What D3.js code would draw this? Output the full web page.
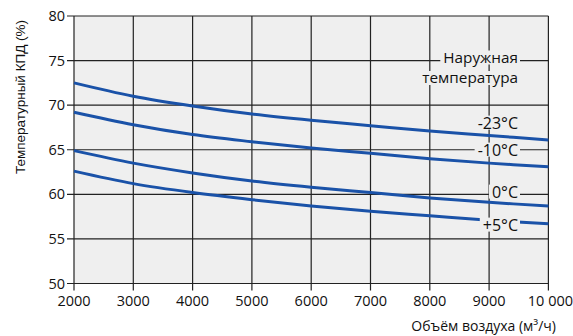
<!DOCTYPE html>
<html><head><meta charset="utf-8">
<script src="https://cdn.jsdelivr.net/npm/d3@7"></script>
<style>body{margin:0;background:#fff}svg{display:block}</style>
</head><body><svg id="c" width="573" height="336"></svg>
<script>
const xTicks = [2000,3000,4000,5000,6000,7000,8000,9000,10000];
const xTickLabels = ["2000","3000","4000","5000","6000","7000","8000","9000","10 000"];
const yTicks = [50,55,60,65,70,75,80];
const airflow = [2000,3000,4000,5000,6000,7000,8000,9000,10000];
const effMinus23 = [72.5,71.0,69.9,69.0,68.3,67.7,67.1,66.6,66.1];
const effMinus10 = [69.2,67.8,66.7,65.9,65.2,64.6,64.0,63.5,63.1];
const eff0 = [64.9,63.5,62.4,61.5,60.8,60.2,59.6,59.1,58.7];
const effPlus5 = [62.6,61.2,60.2,59.4,58.7,58.1,57.6,57.1,56.7];
const seriesLabels = ["-23°C","-10°C","0°C","+5°C"];
const legendTitle = ["Наружная","температура"];
const yTitle = "Температурный КПД (%)";
const xTitle = "Объём воздуха (м³/ч)";

const svg = d3.select("#c");
const x = d3.scaleLinear().domain([2000,10000]).range([74,548.4]);
const y = d3.scaleLinear().domain([50,80]).range([283.5,16]);
const font = "'Open Sans', sans-serif";

svg.append("rect").attr("x",x(2000)).attr("y",y(80)).attr("width",x(10000)-x(2000)).attr("height",y(50)-y(80)).attr("fill","#efefef");

// grid
svg.append("g").selectAll("line").data(xTicks).join("line")
  .attr("x1",d=>x(d)).attr("x2",d=>x(d)).attr("y1",y(80)).attr("y2",y(50)+7)
  .attr("stroke","#222").attr("stroke-width",1.2);
svg.append("g").selectAll("line").data(yTicks).join("line")
  .attr("x1",x(2000)-7).attr("x2",x(10000)).attr("y1",d=>y(d)).attr("y2",d=>y(d))
  .attr("stroke","#222").attr("stroke-width",1.2);

// tick labels
svg.append("g").selectAll("text").data(yTicks).join("text")
  .attr("x",65).attr("y",d=>y(d)).attr("dy","0.35em").attr("text-anchor","end")
  .attr("font-family",font).attr("font-size",14.5).attr("fill","#111").text(d=>d);
svg.append("g").selectAll("text").data(xTicks).join("text")
  .attr("x",(d,i)=> i===xTicks.length-1 ? x(d)+2 : x(d)).attr("y",306).attr("text-anchor","middle")
  .attr("font-family",font).attr("font-size",14.5).attr("fill","#111").text((d,i)=>xTickLabels[i]);

// curves
const line = d3.line().x((d,i)=>x(airflow[i])).y(d=>y(d)).curve(d3.curveCatmullRom);
const series = [effMinus23,effMinus10,eff0,effPlus5];
svg.append("g").selectAll("path").data(series).join("path")
  .attr("d",line).attr("fill","none").attr("stroke","#1a52a8").attr("stroke-width",3);

// labels with masking background
const labelY = [123,150,192,225];
const lg = svg.append("g");
seriesLabels.forEach((t,i)=>{
  const tx = lg.append("text").attr("x",518).attr("y",labelY[i]).attr("dy","0.35em")
    .attr("text-anchor","end").attr("font-family",font).attr("font-size",16).attr("fill","#111").text(t);
  const b = tx.node().getBBox();
  lg.insert("rect","text").attr("x",b.x-3).attr("y",b.y+4).attr("width",b.width+5).attr("height",b.height-8).attr("fill","#efefef");
});
const titleY = [57.5,78];
legendTitle.forEach((t,i)=>{
  const tx = lg.append("text").attr("x",518).attr("y",titleY[i]).attr("dy","0.35em")
    .attr("text-anchor","end").attr("font-family",font).attr("font-size",15.3).attr("fill","#111").text(t);
  const w = tx.node().getComputedTextLength();
  lg.insert("rect","text").attr("x",518-w-3).attr("y",titleY[i]-7).attr("width",w+5).attr("height",14).attr("fill","#efefef");
});

svg.append("text").attr("transform","translate(25,97) rotate(-90)").attr("text-anchor","middle")
  .attr("font-family","'Liberation Sans', Arial, sans-serif").attr("font-size",13.5).attr("fill","#111").text(yTitle);
svg.append("text").attr("x",556).attr("y",331).attr("text-anchor","end")
  .attr("font-family",font).attr("font-size",14).attr("fill","#111").text(xTitle);
</script></body></html>
